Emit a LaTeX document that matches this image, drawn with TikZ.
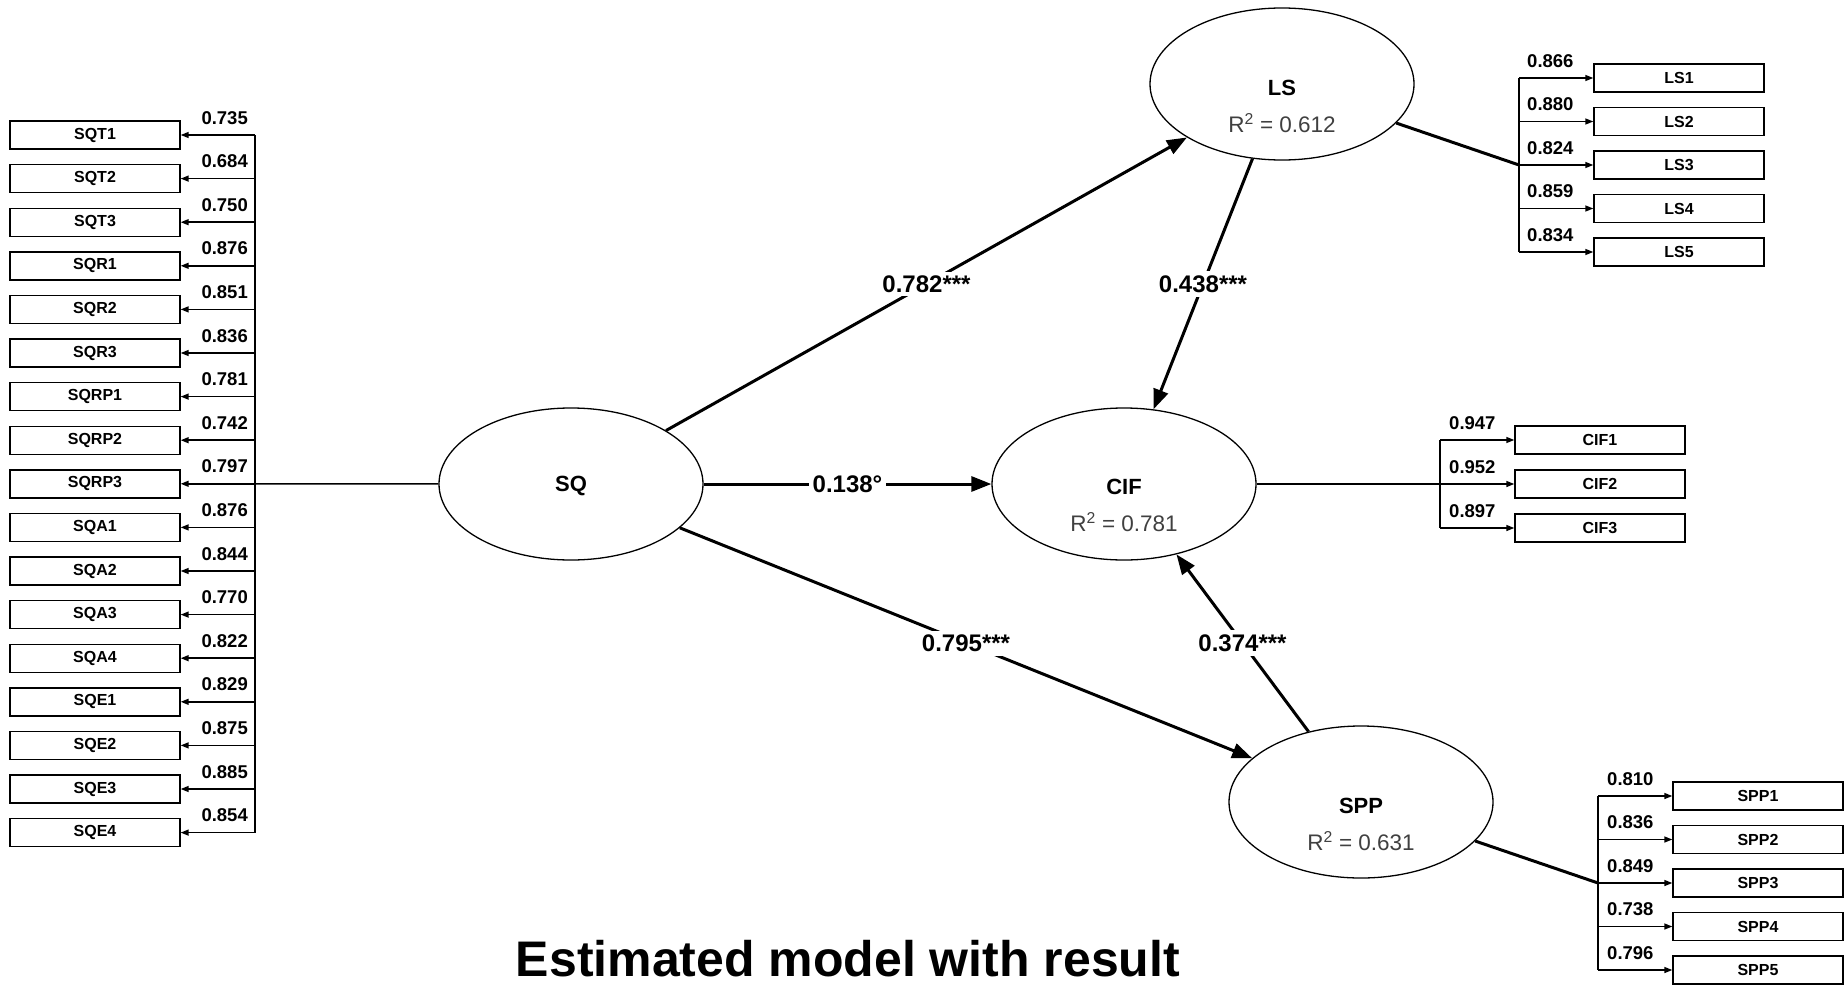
\documentclass[tikz,border=0pt]{standalone}
\usepackage{fontspec}
\setmainfont{Liberation Sans}
\usetikzlibrary{shapes.geometric,arrows.meta}
\begin{document}
\begin{tikzpicture}[x=1pt,y=-1pt,
  ind/.style={draw, line width=1.4pt, minimum width=170pt, minimum height=28pt, inner sep=0pt, font=\fontsize{16}{18}\selectfont\bfseries},
  lat/.style={draw, ellipse, line width=1.3pt, inner sep=0pt, minimum width=264pt, minimum height=152pt},
  latname/.style={font=\fontsize{22}{24}\selectfont\bfseries, inner sep=0pt},
  rsq/.style={font=\fontsize{22.5}{25}\selectfont, text=black!75, inner sep=0pt},
  coef/.style={font=\fontsize{24}{27}\selectfont\bfseries, fill=white, inner sep=4pt},
  lodl/.style={font=\fontsize{18.5}{20}\selectfont\bfseries, inner sep=0pt, anchor=base east},
  lodr/.style={font=\fontsize{18.5}{20}\selectfont\bfseries, inner sep=0pt, anchor=base west},
  struct/.style={line width=3pt, -{Triangle[length=20pt,width=15pt]}},
  meas/.style={line width=1.5pt, -{Triangle[length=8pt,width=6pt]}},
  bus/.style={line width=1.5pt},
  busthick/.style={line width=3pt}
]
\useasboundingbox (0,0) rectangle (1847,985);
\fill[white] (0,0) rectangle (1847,985);

% latent variables
\node[lat] (SQ) at (571,484) {};
\node[latname] (SQt) at (571,486) {SQ};
\node[lat] (CIF) at (1124,484) {};
\node[latname] (CIFt) at (1124,487) {CIF};
\node[rsq] (CIFr) at (1124,522) {R\textsuperscript{2} = 0.781};
\node[lat] (LS) at (1282,84) {};
\node[latname] (LSt) at (1282,88) {LS};
\node[rsq] (LSr) at (1282,123) {R\textsuperscript{2} = 0.612};
\node[lat] (SPP) at (1361,802) {};
\node[latname] (SPPt) at (1361,806) {SPP};
\node[rsq] (SPPr) at (1361,841) {R\textsuperscript{2} = 0.631};

% SQ indicators
\foreach \n/\l [count=\i from 0] in {SQT1/0.735,SQT2/0.684,SQT3/0.750,SQR1/0.876,SQR2/0.851,SQR3/0.836,SQRP1/0.781,SQRP2/0.742,SQRP3/0.797,SQA1/0.876,SQA2/0.844,SQA3/0.770,SQA4/0.822,SQE1/0.829,SQE2/0.875,SQE3/0.885,SQE4/0.854}{
  \pgfmathsetmacro\yy{135+\i*43.6}
  \node[ind] (\n) at (95,\yy) {\n};
  \coordinate (b\n) at (255,\yy);
  \draw[meas] (b\n) -- (\n.east);
  \node[lodl] (l\n) at (248,\yy-11) {\l};
}
\draw[bus] (bSQT1) -- (bSQE4);
\draw[bus] (SQ) -- (bSQRP3);

% LS indicators
\foreach \n/\l [count=\i from 0] in {LS1/0.866,LS2/0.880,LS3/0.824,LS4/0.859,LS5/0.834}{
  \pgfmathsetmacro\yy{78+\i*43.5}
  \node[ind] (\n) at (1679,\yy) {\n};
  \coordinate (b\n) at (1519,\yy);
  \draw[meas] (b\n) -- (\n.west);
  \node[lodr] (l\n) at (1527,\yy-11) {\l};
}
\draw[bus] (bLS1) -- (bLS5);
\draw[busthick] (LS) -- (bLS3);

% CIF indicators
\foreach \n/\l [count=\i from 0] in {CIF1/0.947,CIF2/0.952,CIF3/0.897}{
  \pgfmathsetmacro\yy{440+\i*44}
  \node[ind] (\n) at (1600,\yy) {\n};
  \coordinate (b\n) at (1440,\yy);
  \draw[meas] (b\n) -- (\n.west);
  \node[lodr] (l\n) at (1449,\yy-11) {\l};
}
\draw[bus] (bCIF1) -- (bCIF3);
\draw[bus] (CIF) -- (bCIF2);

% SPP indicators
\foreach \n/\l [count=\i from 0] in {SPP1/0.810,SPP2/0.836,SPP3/0.849,SPP4/0.738,SPP5/0.796}{
  \pgfmathsetmacro\yy{796+\i*43.5}
  \node[ind] (\n) at (1758,\yy) {\n};
  \coordinate (b\n) at (1598,\yy);
  \draw[meas] (b\n) -- (\n.west);
  \node[lodr] (l\n) at (1607,\yy-11) {\l};
}
\draw[bus] (bSPP1) -- (bSPP5);
\draw[busthick] (SPP) -- (bSPP3);

% structural paths
\draw[struct] (SQ) -- node[coef] (c1) {0.782***} (LS);
\draw[struct] (SQ) -- node[coef] (c2) {0.138°} (CIF);
\draw[struct] (SQ) -- node[coef] (c3) {0.795***} (SPP);
\draw[struct] (LS) -- node[coef] (c4) {0.438***} (CIF);
\draw[struct] (SPP) -- node[coef] (c5) {0.374***} (CIF);

% title
\node[font=\fontsize{50}{56}\selectfont\bfseries, anchor=base, inner sep=0pt] (title) at (848,976) {Estimated model with result};
\end{tikzpicture}
\end{document}
